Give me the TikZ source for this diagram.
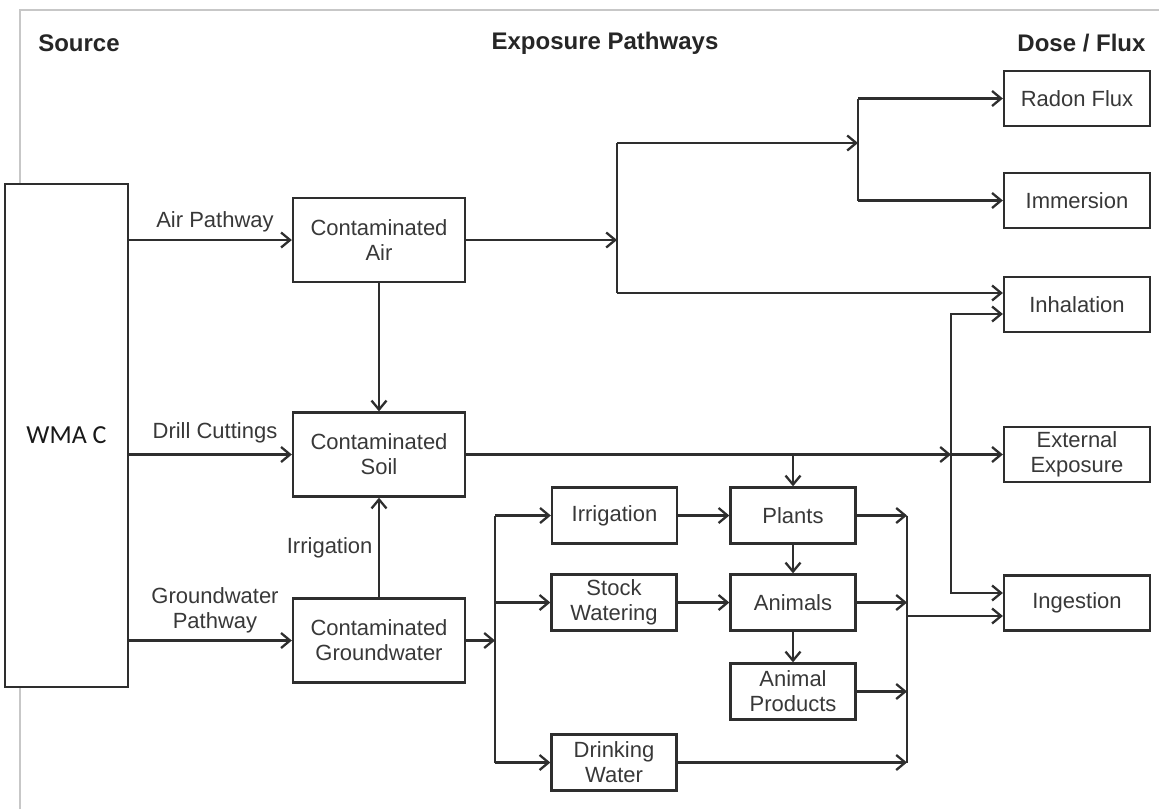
\documentclass[tikz,border=0pt]{standalone}
\usepackage{fontspec}
\setmainfont{Liberation Sans}
\newfontfamily\wmafont{Carlito}
\usepackage{tikz}
\usetikzlibrary{positioning}
\usetikzlibrary{arrows.meta}

\begin{document}
\begin{tikzpicture}[
  x=1pt, y=-1pt,
  font=\fontsize{22}{25}\selectfont,
  every node/.style={text=black!78},
  mybox/.style={draw=black!82,line width=2.3pt,align=center,inner sep=0pt},
  bigbox/.style={mybox,minimum width=172pt,minimum height=84pt},
  dosebox/.style={mybox,minimum width=146pt,minimum height=55pt},
  smallbox/.style={mybox,minimum width=125pt,minimum height=56pt},
  link/.style={draw=black!82,line width=2.3pt},
  arr/.style={link,-{Straight Barb[length=9pt,width=15pt]}},
  title/.style={font=\fontsize{24}{28}\selectfont\bfseries,text=black!85}
]

\useasboundingbox (0,0) rectangle (1159,809);
\draw[black!22, line width=1.5pt] (20,809) -- (20,10) -- (1159,10);

\node[title] (src) at (79,43) {Source};
\node[title] (exp) at (605,43) {Exposure Pathways};
\node[title, anchor=east] (dose) at (1149,43) {Dose / Flux};

\node[mybox, fill=white, minimum width=123pt, minimum height=503pt,
  font=\wmafont\fontsize{26}{30}\selectfont, text=black!90] (wma) at (66.5,435.5) {WMA C};

\node[bigbox] (air) at (379,240) {Contaminated\\Air};
\node[bigbox] (soil) at (379,454.5) {Contaminated\\Soil};
\node[bigbox] (gw) at (379,640.5) {Contaminated\\Groundwater};

\node[dosebox] (radon) at (1077,98.5) {Radon Flux};
\node[dosebox] (imm) at (1077,200.5) {Immersion};
\node[dosebox] (inh) at (1077,304.5) {Inhalation};
\node[dosebox] (ext) at (1077,454.5) {External\\Exposure};
\node[dosebox] (ing) at (1077,603) {Ingestion};

\node[smallbox] (irr) at (614.5,515.5) {Irrigation};
\node[smallbox] (stock) at (614,602.5) {Stock\\Watering};
\node[smallbox] (drink) at (614,762.5) {Drinking\\Water};
\node[smallbox] (plants) at (793,515.5) {Plants};
\node[smallbox] (animals) at (793,602.5) {Animals};
\node[smallbox] (prod) at (793,691.5) {Animal\\Products};

% pathway labels
\node (airlbl) at (215,222) {Air Pathway};
\node (drill) at (215,433) {Drill Cuttings};
\node[align=center] (gwlbl) at (215,610) {Groundwater\\Pathway};
\node[anchor=east] (irrlbl) at (376,548) {Irrigation};

% junctions
\coordinate (jair) at (617,240);
\coordinate (jtop) at (617,143);
\coordinate (jbot) at (617,293);
\coordinate (jrad) at (858,143);
\coordinate (jsoil) at (951,454.5);
\coordinate (jinh) at (951,314);
\coordinate (jing) at (951,593);
\coordinate (jgw) at (495,640.5);
\coordinate (jcol) at (907,616);

\path (wma.east |- air.west) edge[arr] (air.west)
(wma.east |- soil.west) edge[arr] (soil.west)
(wma.east |- gw.west) edge[arr] (gw.west)
(air.south) edge[arr] (soil.north)
(gw.north) edge[arr] (soil.south)
(air.east) edge[arr] (jair)
;

% air
\draw[link] (jtop) -- (jbot);
\draw[arr] (jtop) -- (jrad);
\draw[link] (jrad |- radon.west) -- (jrad |- imm.west);
\draw[arr] (jrad |- radon.west) -- (radon.west);
\draw[arr] (jrad |- imm.west) -- (imm.west);
\draw[arr] (jbot) -- (jbot -| inh.west);

% soil
\draw[arr] (soil.east) -- (jsoil);
\draw[arr] (jsoil) -- (ext.west);
\draw[arr] (jsoil) |- (jinh -| inh.west);
\draw[arr] (jsoil) |- (jing -| ing.west);
\draw[arr] (soil.east -| plants.north) -- (plants.north);

\path (plants.south) edge[arr] (animals.north)
(animals.south) edge[arr] (prod.north)
(irr.east) edge[arr] (plants.west)
(stock.east) edge[arr] (animals.west)
;

% groundwater
\draw[arr] (gw.east) -- (jgw);
\draw[link] (jgw |- irr.west) -- (jgw |- drink.west);
\draw[arr] (jgw |- irr.west) -- (irr.west);
\draw[arr] (jgw |- stock.west) -- (stock.west);
\draw[arr] (jgw |- drink.west) -- (drink.west);

% to ingestion
\draw[arr] (plants.east) -- (plants.east -| jcol);
\draw[arr] (animals.east) -- (animals.east -| jcol);
\draw[arr] (prod.east) -- (prod.east -| jcol);
\draw[arr] (drink.east) -- (drink.east -| jcol);
\draw[link] (plants.east -| jcol) -- (drink.east -| jcol);
\draw[arr] (jcol) -- (jcol -| ing.west);

\end{tikzpicture}
\end{document}
